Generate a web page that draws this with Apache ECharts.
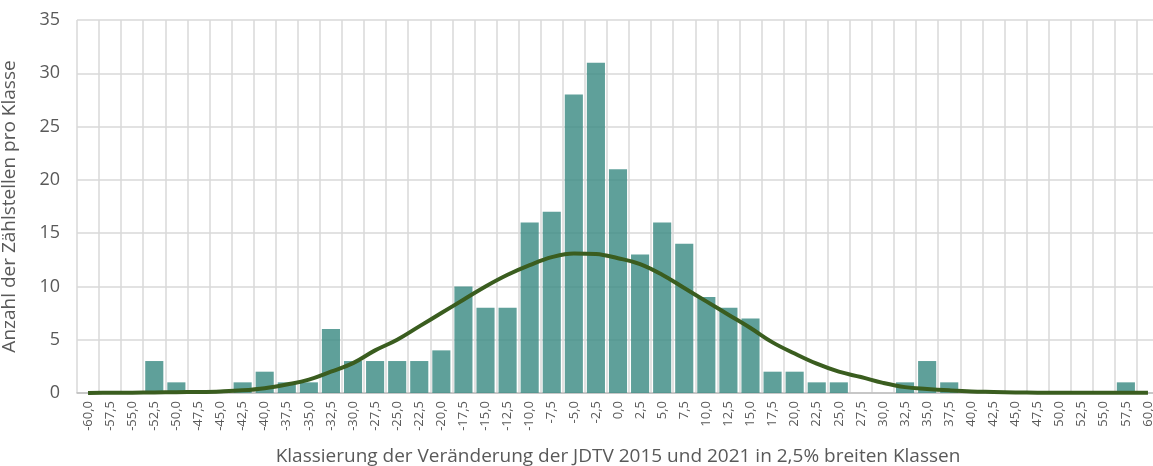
<!DOCTYPE html>
<html>
<head>
<meta charset="utf-8">
<script src="https://cdn.jsdelivr.net/npm/echarts@6/dist/echarts.min.js"></script>
<style>
  html, body { margin: 0; padding: 0; background: #fff; }
  #histo { width: 1153px; height: 466px; }
</style>
</head>
<body>
<div id="histo"></div>
<script>
// Klassen in 2,5%-Schritten
var klassen = ['-60,0','-57,5','-55,0','-52,5','-50,0','-47,5','-45,0','-42,5','-40,0','-37,5',
  '-35,0','-32,5','-30,0','-27,5','-25,0','-22,5','-20,0','-17,5','-15,0','-12,5',
  '-10,0','-7,5','-5,0','-2,5','0,0','2,5','5,0','7,5','10,0','12,5',
  '15,0','17,5','20,0','22,5','25,0','27,5','30,0','32,5','35,0','37,5',
  '40,0','42,5','45,0','47,5','50,0','52,5','55,0','57,5','60,0'];

// Anzahl Zählstellen pro Klasse
var anzahl = [0,0,0,3,1,0,0,1,2,1,
  1,6,3,3,3,3,4,10,8,8,
  16,17,28,31,21,13,16,14,9,8,
  7,2,2,1,1,0,0,1,3,1,
  0,0,0,0,0,0,0,1,0];

// Normalverteilung
var normal = [0,0.02,0.03,0.05,0.08,0.1,0.15,0.25,0.45,0.8,
  1.25,2.0,2.8,4.0,5.0,6.25,7.5,8.75,10.0,11.1,
  12.0,12.75,13.1,13.05,12.65,12.1,11.1,9.85,8.6,7.35,
  6.1,4.75,3.7,2.75,2.0,1.5,0.95,0.55,0.38,0.25,
  0.15,0.1,0.05,0.03,0.02,0.02,0.02,0.02,0.02];

var yTicks = [0, 5, 10, 15, 20, 25, 30, 35];

var myChart = echarts.init(document.getElementById('histo'));
var fnt = '"Open Sans", "Noto Sans", sans-serif';

var option = {
  animation: false,
  grid: { left: 77, right: -6, top: 20, bottom: 73, outerBoundsMode: 'none', containLabel: false },
  xAxis: {
    type: 'category',
    data: klassen,
    boundaryGap: true,
    name: 'Klassierung der Veränderung der JDTV 2015 und 2021 in 2,5% breiten Klassen',
    nameLocation: 'middle',
    nameGap: 54,
    nameTextStyle: { fontFamily: fnt, fontSize: 19, color: '#595959' },
    axisLine: { lineStyle: { color: '#bfbfbf', width: 1.5 } },
    axisTick: { show: false },
    axisLabel: { rotate: 90, interval: 0, margin: 8, fontFamily: fnt, fontSize: 13, color: '#595959' },
    splitLine: { show: true, interval: 0, lineStyle: { color: '#d9d9d9', width: 1.5 } }
  },
  yAxis: {
    type: 'value',
    min: yTicks[0],
    max: yTicks[yTicks.length - 1],
    interval: 5,
    name: 'Anzahl der Zählstellen pro Klasse',
    nameLocation: 'middle',
    nameGap: 58,
    nameTextStyle: { fontFamily: fnt, fontSize: 19, color: '#595959' },
    axisLine: { show: false },
    axisTick: { show: false },
    axisLabel: { margin: 17, fontFamily: fnt, fontSize: 18, color: '#595959' },
    splitLine: { lineStyle: { color: '#d9d9d9', width: 1.5 } }
  },
  series: [
    {
      name: 'Anzahl',
      type: 'bar',
      data: anzahl,
      barCategoryGap: '18%',
      itemStyle: { color: '#438f88', opacity: 0.85 }
    },
    {
      name: 'Normalverteilung',
      type: 'line',
      data: normal,
      smooth: 0.4,
      symbol: 'none',
      lineStyle: { color: '#3a5d1f', width: 4 },
      z: 5
    }
  ]
};
myChart.setOption(option);
</script>
</body>
</html>
